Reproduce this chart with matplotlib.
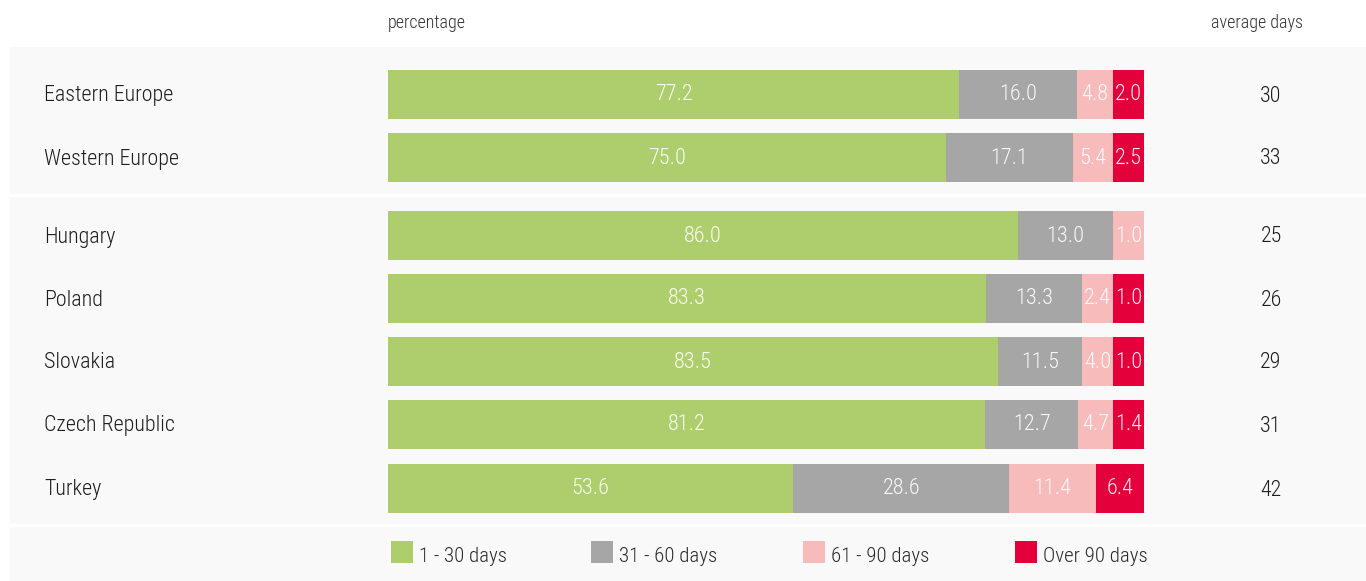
import matplotlib
matplotlib.use("Agg")
import matplotlib.pyplot as plt
from matplotlib.patches import Rectangle

regions = ["Eastern Europe", "Western Europe"]
countries = ["Hungary", "Poland", "Slovakia", "Czech Republic", "Turkey"]
categories = regions + countries
series_names = ["1 - 30 days", "31 - 60 days", "61 - 90 days", "Over 90 days"]
d1_30 = [77.2, 75.0, 86.0, 83.3, 83.5, 81.2, 53.6]
d31_60 = [16.0, 17.1, 13.0, 13.3, 11.5, 12.7, 28.6]
d61_90 = [4.8, 5.4, 1.0, 2.4, 4.0, 4.7, 11.4]
over_90 = [2.0, 2.5, None, 1.0, 1.0, 1.4, 6.4]
avg_days = [30, 33, 25, 26, 29, 31, 42]

colors = ["#aece6e", "#a6a6a6", "#f7bbbb", "#e4003a"]

plt.rcParams["font.family"] = ["Roboto Condensed", "DejaVu Sans"]
plt.rcParams["font.weight"] = 300

W, H = 1366, 581
fig = plt.figure(figsize=(W / 100, H / 100), dpi=100)
fig.patch.set_facecolor("white")

# background panels (figure pixel coordinates)
bg = fig.add_axes([0, 0, 1, 1])
bg.set_xlim(0, W)
bg.set_ylim(H, 0)
bg.axis("off")
for y0, y1 in [(47, 194), (197, 524), (527, 581)]:
    bg.add_patch(Rectangle((10, y0), W - 10, y1 - y0, color="#f9f9f9", lw=0))

bar_left, bar_right = 388, 1144
ax = fig.add_axes([bar_left / W, 0, (bar_right - bar_left) / W, 1])
ax.set_xlim(0, 100)
ax.set_ylim(H, 0)
ax.axis("off")
ax.patch.set_alpha(0)

row_y = [94, 157, 235, 298, 361, 424, 488]
bar_h = 49
MIN_W = 4.1

for i, cat in enumerate(categories):
    vals = [d1_30[i], d31_60[i], d61_90[i], over_90[i]]
    present = [v for v in vals if v is not None]
    small = [v for v in present if v < MIN_W]
    big_sum = sum(v for v in present if v >= MIN_W)
    scale = (100 - MIN_W * len(small)) / big_sum
    left = 0
    y = row_y[i]
    for v, c in zip(vals, colors):
        if v is None:
            continue
        w = MIN_W if v < MIN_W else v * scale
        ax.barh(y, w, left=left, height=bar_h, color=c, lw=0)
        ax.text(left + w / 2, y + 1, f"{v:.1f}", ha="center", va="center",
                color="white", alpha=0.92, fontsize=16)
        left += w
    bg.text(44, y + 2, cat, ha="left", va="center", fontsize=15.8, color="#1e1e1e")
    bg.text(1271, y + 2, str(avg_days[i]), ha="center", va="center", fontsize=15.8,
            color="#1e1e1e")

bg.text(388, 23, "percentage", ha="left", va="center", fontsize=13, color="#333333")
bg.text(1257, 23, "average days", ha="center", va="center", fontsize=13, color="#333333")

leg_x = [391, 591, 803, 1015]
for x, c, name in zip(leg_x, colors, series_names):
    bg.add_patch(Rectangle((x, 541), 22, 22, color=c, lw=0))
    bg.text(x + 28, 557, name, ha="left", va="center", fontsize=15, color="#2a2a2a")

fig.savefig("out.png", dpi=100, facecolor="white")
